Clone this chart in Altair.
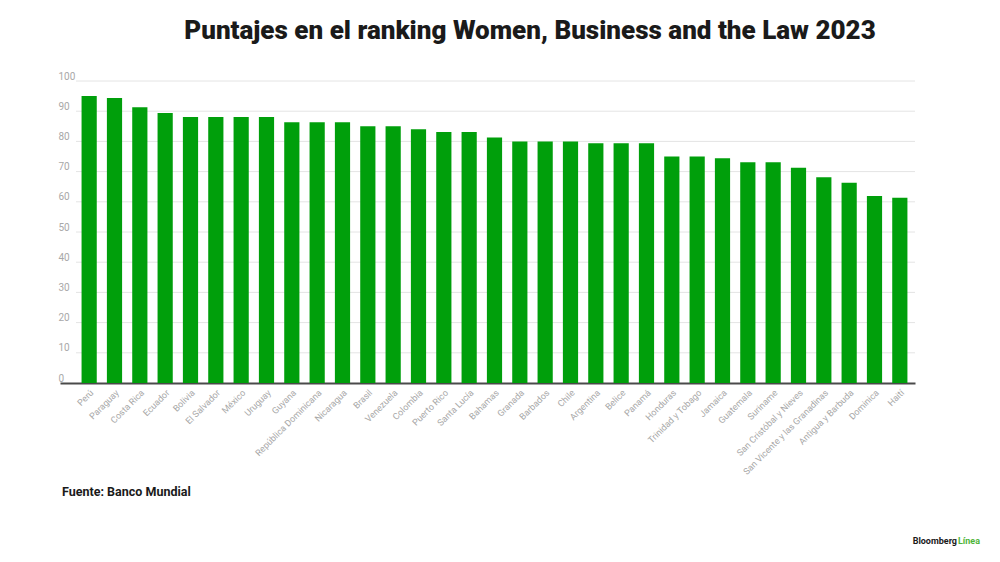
import altair as alt
import pandas as pd

countries = ["Perú", "Paraguay", "Costa Rica", "Ecuador", "Bolivia", "El Salvador", "México",
             "Uruguay", "Guyana", "República Dominicana", "Nicaragua", "Brasil", "Venezuela",
             "Colombia", "Puerto Rico", "Santa Lucía", "Bahamas", "Granada", "Barbados", "Chile",
             "Argentina", "Belice", "Panamá", "Honduras", "Trinidad y Tobago", "Jamaica",
             "Guatemala", "Suriname", "San Cristóbal y Nieves", "San Vicente y las Granadinas",
             "Antigua y Barbuda", "Dominica", "Haití"]
scores = [95.0, 94.4, 91.3, 89.4, 88.1, 88.1, 88.1, 88.1, 86.3, 86.3, 86.3, 85.0, 85.0,
          84.0, 83.1, 83.1, 81.3, 80.0, 80.0, 80.0, 79.4, 79.4, 79.4, 75.0, 75.0, 74.4,
          73.1, 73.1, 71.3, 68.1, 66.3, 61.9, 61.3]
y_ticks = [0, 10, 20, 30, 40, 50, 60, 70, 80, 90, 100]

title_text = "Puntajes en el ranking Women, Business and the Law 2023"
source_text = "Fuente: Banco Mundial"

df = pd.DataFrame({"country": countries, "score": scores})
grid_df = pd.DataFrame({"v": y_ticks[1:]})

W, H = 855, 302

y_scale = alt.Scale(domain=[0, 100], nice=False)
y_axis = alt.Axis(values=y_ticks, grid=False, domain=False, ticks=False,
                  labelAlign="left", labelPadding=2, labelBaseline="bottom",
                  labelColor="#a8a8a8", labelFontSize=10, labelFont="Roboto")

grid = alt.Chart(grid_df).mark_rule(color="#e4e4e4", strokeWidth=1).encode(
    y=alt.Y("v:Q", scale=y_scale, axis=y_axis, title=None),
    x=alt.value(16),
    x2=alt.value(W),
)

bars = alt.Chart(df).mark_bar(color="#009f0b").encode(
    x=alt.X("country:N", sort=None, title=None,
            scale=alt.Scale(paddingInner=0.4, paddingOuter=0.575, align=0.74),
            axis=alt.Axis(labelAngle=-45, labelColor="#a8a8a8", labelFontSize=9,
                          labelFont="Roboto", ticks=False, domainColor="#4a4a4a",
                          domainWidth=2, labelPadding=5)),
    y=alt.Y("score:Q", scale=y_scale, title=None, axis=y_axis),
)

def label(text, x, y, size, weight, color, align="left", font="Roboto"):
    return alt.Chart(pd.DataFrame({"t": [text]})).mark_text(
        align=align, baseline="alphabetic", fontSize=size, fontWeight=weight,
        color=color, font=font
    ).encode(text="t:N", x=alt.value(x), y=alt.value(y))

title = label(title_text, 470, -42, 26, 900, "#1a1a1a", align="center")
source = label(source_text, 2, 415, 12.5, 700, "#1a1a1a")
logo1 = label("Bloomberg", 897, 463, 9, 700, "#1a1a1a", align="right")
logo2 = label("Línea", 920, 463, 9, 700, "#4fb53a", align="right")

chart = alt.layer(grid, bars, title, source, logo1, logo2).properties(
    width=W, height=H,
    autosize=alt.AutoSizeParams(type="none"),
    padding={"left": 52, "top": 73, "right": 77, "bottom": 171},
).configure_view(stroke=None)

chart.save("out.html", embed_options={"renderer": "svg", "actions": False})
